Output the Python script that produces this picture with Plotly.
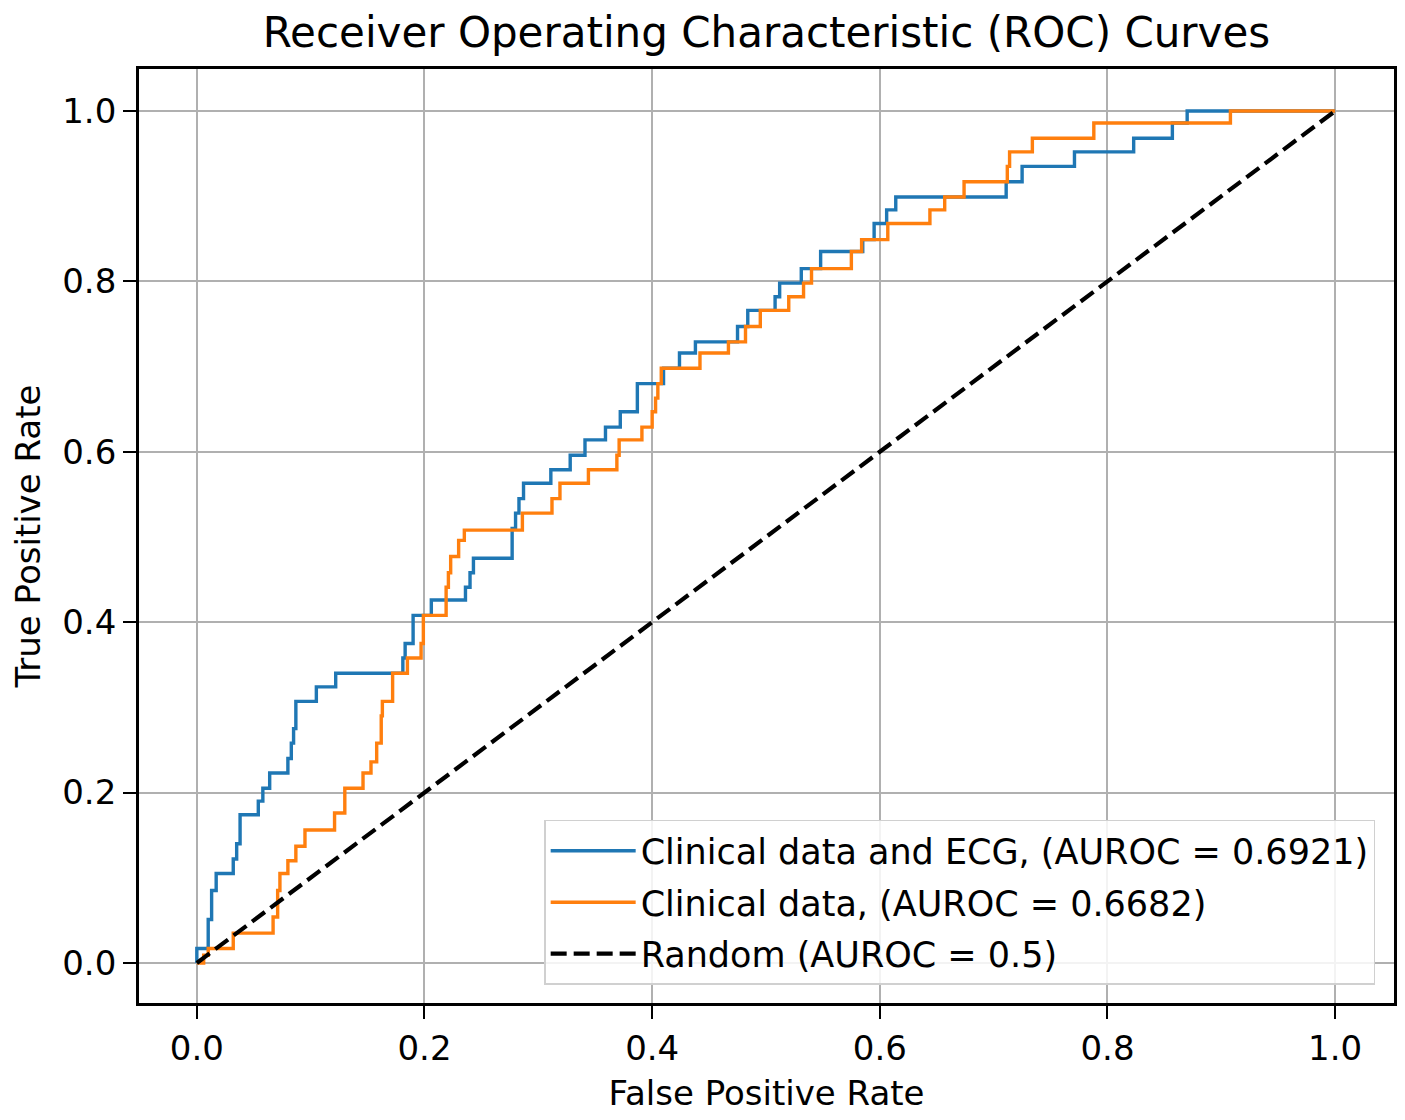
import plotly.graph_objects as go

# ---- data ----
fpr_ecg = [0.000, 0.000, 0.010, 0.013, 0.017, 0.032, 0.035, 0.038, 0.054, 0.058,
           0.064, 0.080, 0.083, 0.085, 0.087, 0.105, 0.122, 0.181, 0.183, 0.190,
           0.206, 0.236, 0.240, 0.243, 0.277, 0.280, 0.283, 0.287, 0.311, 0.328,
           0.341, 0.359, 0.372, 0.387, 0.410, 0.424, 0.438, 0.475, 0.484, 0.508,
           0.512, 0.531, 0.548, 0.585, 0.595, 0.606, 0.614, 0.711, 0.725, 0.771,
           0.823, 0.857, 0.870, 1.000]
tpr_ecg = [0.000, 0.017, 0.051, 0.085, 0.105, 0.122, 0.140, 0.174, 0.190, 0.205,
           0.223, 0.240, 0.258, 0.275, 0.307, 0.324, 0.340, 0.358, 0.375, 0.408,
           0.426, 0.441, 0.458, 0.475, 0.510, 0.528, 0.545, 0.563, 0.579, 0.596,
           0.614, 0.629, 0.647, 0.680, 0.698, 0.716, 0.729, 0.747, 0.766, 0.782,
           0.798, 0.815, 0.835, 0.849, 0.868, 0.884, 0.899, 0.917, 0.935, 0.952,
           0.968, 0.986, 1.000, 1.000]

fpr_clin = [0.000, 0.006, 0.010, 0.032, 0.067, 0.071, 0.073, 0.080, 0.087, 0.095,
            0.121, 0.130, 0.146, 0.153, 0.158, 0.162, 0.163, 0.172, 0.185, 0.197,
            0.199, 0.219, 0.221, 0.223, 0.230, 0.235, 0.286, 0.312, 0.319, 0.344,
            0.369, 0.371, 0.391, 0.400, 0.403, 0.405, 0.408, 0.442, 0.467, 0.482,
            0.495, 0.520, 0.533, 0.540, 0.575, 0.584, 0.607, 0.644, 0.657, 0.674,
            0.712, 0.714, 0.734, 0.788, 0.908, 1.000]
tpr_clin = [0.000, 0.009, 0.017, 0.035, 0.054, 0.085, 0.105, 0.120, 0.137, 0.156,
            0.176, 0.205, 0.223, 0.236, 0.258, 0.290, 0.307, 0.340, 0.358, 0.375,
            0.408, 0.441, 0.458, 0.477, 0.496, 0.508, 0.528, 0.545, 0.563, 0.579,
            0.596, 0.614, 0.629, 0.647, 0.663, 0.680, 0.698, 0.716, 0.729, 0.747,
            0.766, 0.782, 0.798, 0.815, 0.835, 0.849, 0.868, 0.884, 0.899, 0.917,
            0.935, 0.952, 0.968, 0.986, 1.000, 1.000]

fpr_random = [0.0, 1.0]
tpr_random = [0.0, 1.0]

series_names = ["Clinical data and ECG, (AUROC = 0.6921)",
                "Clinical data, (AUROC = 0.6682)",
                "Random (AUROC = 0.5)"]

tick_vals = [0.0, 0.2, 0.4, 0.6, 0.8, 1.0]
tick_text = ["0.0", "0.2", "0.4", "0.6", "0.8", "1.0"]

FONT = "DejaVu Sans"

fig = go.Figure()
fig.add_trace(go.Scatter(x=fpr_ecg, y=tpr_ecg, mode="lines", name=series_names[0],
                         line=dict(color="#1f77b4", width=3.4, shape="hv"),
                         legendgroup="a"))
fig.add_trace(go.Scatter(x=fpr_clin, y=tpr_clin, mode="lines", name=series_names[1],
                         line=dict(color="#ff7f0e", width=3.4, shape="hv"),
                         legendgroup="b"))
fig.add_trace(go.Scatter(x=fpr_random, y=tpr_random, mode="lines", name=series_names[2],
                         line=dict(color="black", width=4.2, dash="16px,7px"),
                         legendgroup="c"))

axis_common = dict(
    showgrid=True, gridcolor="#b0b0b0", gridwidth=1.8, zeroline=False,
    tickvals=tick_vals, ticktext=tick_text,
    showline=True, linecolor="black", linewidth=2.8, mirror=True,
    ticks="outside", ticklen=13, tickwidth=2.2, tickcolor="black",
    tickfont=dict(family=FONT, size=34, color="black"),
)

# page body adds an 8px offset; the figure is sized to fit inside the window
fig.update_layout(
    width=1397, height=1112,
    margin=dict(l=131, r=8, t=61, b=117),
    paper_bgcolor="white", plot_bgcolor="white",
    font=dict(family=FONT, color="black"),
    title=dict(text="Receiver Operating Characteristic (ROC) Curves",
               x=0.5, xref="paper", xanchor="center",
               y=1 - 24 / 1112, yref="container", yanchor="middle",
               font=dict(family=FONT, size=42, color="black")),
    xaxis=dict(**axis_common, range=[-0.0508, 1.0517],
               title=dict(text="False Positive Rate", standoff=15,
                          font=dict(family=FONT, size=34, color="black"))),
    yaxis=dict(**axis_common, range=[-0.047, 1.0493],
               title=dict(text="True Positive Rate", standoff=18,
                          font=dict(family=FONT, size=34, color="black"))),
    legend=dict(x=0.985, y=0.0193, xanchor="right", yanchor="bottom",
                bgcolor="rgba(255,255,255,0.85)", bordercolor="#d0d0d0", borderwidth=1.5,
                font=dict(family=FONT, size=35, color="black"),
                traceorder="grouped", tracegroupgap=3, itemwidth=85),
    showlegend=True,
)

fig.write_html("out.html")
